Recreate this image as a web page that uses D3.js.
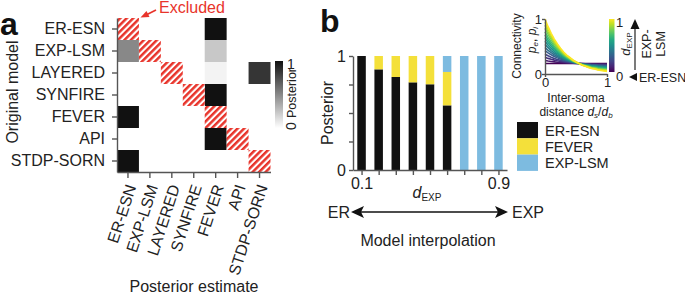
<!DOCTYPE html>
<html><head><meta charset="utf-8">
<script src="https://cdn.jsdelivr.net/npm/d3@7"></script>
<style>body{margin:0;background:#fff}svg{display:block;font-family:"Liberation Sans",Arial,sans-serif}</style>
</head><body><svg id="c" width="685" height="296"></svg>
<script>
// ---------- data ----------
const models = ["ER-ESN","EXP-LSM","LAYERED","SYNFIRE","FEVER","API","STDP-SORN"];
// rows: original model, columns: posterior estimate
const posteriorRows = [
  [0,    0, 0, 0, 1,    0, 0],
  [0.5,  0, 0, 0, 0.23, 0, 0],
  [0,    0, 0, 0, 0.05, 0, 0.85],
  [0,    0, 0, 0, 1,    0, 0],
  [1,    0, 0, 0, 0,    0, 0],
  [0,    0, 0, 0, 1,    0, 0],
  [1,    0, 0, 0, 0,    0, 0]
];
const excludedCells = [[0,0],[1,1],[2,2],[3,3],[4,4],[5,5],[6,6]];

const dExp = [0.1,0.2,0.3,0.4,0.5,0.6,0.7,0.8,0.9];
const postErEsn  = [1, 0.883, 0.816, 0.769, 0.752, 0.567, 0, 0, 0];
const postFever  = [0, 0.117, 0.184, 0.231, 0.248, 0.293, 0, 0, 0];
const postExpLsm = [0, 0, 0, 0, 0, 0.14, 1, 1, 1];
const barSeries = ["ER-ESN","FEVER","EXP-LSM"];
const barColors = ["#111111","#f4e03a","#7dbbe0"];
const dExpTickLabels = ["0.1","0.9"];

// inset: connectivity profiles
const distSamples = [0,0.05,0.1,0.15,0.2,0.25,0.3,0.35,0.4,0.45,0.5,0.55,0.6,0.65,0.7,0.75,0.8,0.85,0.9,0.95,1];
const expProfile  = [1,0.86,0.74,0.635,0.545,0.47,0.40,0.345,0.30,0.255,0.22,0.19,0.16,0.14,0.12,0.10,0.09,0.075,0.065,0.056,0.048];
const flatProfile = [0.19,0.19,0.19,0.19,0.19,0.19,0.19,0.19,0.19,0.19,0.19,0.19,0.19,0.19,0.19,0.19,0.19,0.19,0.19,0.19,0.19];
const insetLevels = [0,0.07,0.14,0.21,0.29,0.36,0.43,0.5,0.57,0.64,0.71,0.79,0.86,0.93,1];

// ---------- drawing ----------
const svg = d3.select("#c");
const txt = "#222", axc = "#555", red = "#e8342b";
const defs = svg.append("defs");
const pat = defs.append("pattern").attr("id","hatch").attr("patternUnits","userSpaceOnUse")
  .attr("width",4.6).attr("height",4.6).attr("patternTransform","rotate(45)");
pat.append("rect").attr("width",4.6).attr("height",4.6).attr("fill","#fff");
pat.append("rect").attr("width",2.5).attr("height",4.6).attr("fill",red);

// ===== Panel a =====
svg.append("text").attr("x",0).attr("y",35).attr("font-size",32).attr("font-weight","bold").attr("fill","#111").text("a");
const hx = d3.scaleBand().domain(models).range([117,270.5]);
const hy = d3.scaleBand().domain(models).range([18,172]);
const gray = d3.scaleLinear().domain([0,1]).range(["#ffffff","#111111"]).interpolate(d3.interpolateRgb);

const cells = [];
posteriorRows.forEach((row,i)=>row.forEach((v,j)=>{ if(v>0) cells.push({r:models[i],c:models[j],v}); }));
svg.append("g").selectAll("rect").data(cells).join("rect")
  .attr("x",d=>hx(d.c)).attr("y",d=>hy(d.r)).attr("width",hx.bandwidth()).attr("height",hy.bandwidth())
  .attr("fill",d=>gray(d.v));
svg.append("g").selectAll("rect").data(excludedCells).join("rect")
  .attr("x",d=>hx(models[d[1]])).attr("y",d=>hy(models[d[0]])).attr("width",hx.bandwidth()).attr("height",hy.bandwidth())
  .attr("fill","url(#hatch)");

const ayA = svg.append("g").attr("transform","translate(117,0)")
  .call(d3.axisLeft(hy).tickSize(5).tickSizeOuter(0).tickPadding(7));
ayA.select(".domain").attr("stroke",axc).attr("stroke-width",1.4);
ayA.selectAll(".tick line").attr("stroke",axc).attr("stroke-width",1.4);
ayA.selectAll(".tick text").attr("font-size",16).attr("fill",txt).attr("font-family","Liberation Sans, Arial, sans-serif");

const axA = svg.append("g").attr("transform","translate(0,172)")
  .call(d3.axisBottom(hx).tickSize(6).tickSizeOuter(0));
axA.select(".domain").attr("stroke",axc).attr("stroke-width",1.4);
axA.selectAll(".tick line").attr("stroke",axc).attr("stroke-width",1.4);
axA.selectAll(".tick text").attr("font-size",16).attr("fill",txt).attr("font-family","Liberation Sans, Arial, sans-serif")
  .attr("text-anchor","end").attr("y",0).attr("dy","0.35em")
  .attr("transform","translate(3,13) rotate(-72)");

svg.append("text").attr("transform","translate(18,92) rotate(-90)").attr("text-anchor","middle")
  .attr("font-size",16).attr("fill",txt).text("Original model");
svg.append("text").attr("x",194).attr("y",292).attr("text-anchor","middle")
  .attr("font-size",16).attr("fill",txt).text("Posterior estimate");

// Excluded annotation
svg.append("text").attr("x",159).attr("y",12.5).attr("font-size",16).attr("fill",red).text("Excluded");
svg.append("line").attr("x1",156).attr("y1",10).attr("x2",146).attr("y2",15).attr("stroke",red).attr("stroke-width",1.8);
svg.append("path").attr("d","M140.5,17.5 L146.5,11 L149.5,17 Z").attr("fill",red);

// colorbar a
const gA = defs.append("linearGradient").attr("id","gA").attr("x1",0).attr("y1",1).attr("x2",0).attr("y2",0);
gA.append("stop").attr("offset",0).attr("stop-color",gray(0));
gA.append("stop").attr("offset",1).attr("stop-color",gray(1));
const cbA = d3.scaleLinear().domain([0,1]).range([128,61]);
svg.append("rect").attr("x",275).attr("y",cbA(1)).attr("width",8).attr("height",cbA(0)-cbA(1)).attr("fill","url(#gA)");
svg.append("text").attr("x",287).attr("y",cbA(1)+8).attr("font-size",14).attr("fill",txt).text("1");
svg.append("text").attr("transform",`translate(296,${cbA(0)-2}) rotate(-90)`).attr("text-anchor","middle")
  .attr("font-size",14).attr("fill",txt).text("0");
svg.append("text").attr("transform","translate(296,93) rotate(-90)").attr("text-anchor","middle")
  .attr("font-size",12.5).attr("fill",txt).text("Posterior");

// ===== Panel b =====
svg.append("text").attr("x",320).attr("y",32).attr("font-size",32).attr("font-weight","bold").attr("fill","#111").text("b");
const bx = d3.scaleLinear().domain([0.05,0.95]).range([353,507]);
const by = d3.scaleLinear().domain([0,1]).range([170,56]);
const barTable = dExp.map((d,i)=>({d,"ER-ESN":postErEsn[i],"FEVER":postFever[i],"EXP-LSM":postExpLsm[i]}));
const stacked = d3.stack().keys(barSeries)(barTable);
const bw = 8.5;
svg.append("g").selectAll("g").data(stacked).join("g").attr("fill",(s,i)=>barColors[i])
  .selectAll("rect").data(s=>s).join("rect")
  .attr("x",d=>bx(d.data.d)-bw/2).attr("width",bw)
  .attr("y",d=>by(d[1])).attr("height",d=>by(d[0])-by(d[1]));

const ayB = svg.append("g").attr("transform","translate(353,0)")
  .call(d3.axisLeft(by).tickValues([0,0.25,0.5,0.75,1]).tickSize(4).tickSizeOuter(0)
    .tickFormat(v=>(v===0||v===1)?d3.format("d")(v):""));
ayB.select(".domain").attr("stroke",axc).attr("stroke-width",1.4);
ayB.selectAll(".tick line").attr("stroke",axc).attr("stroke-width",1.4);
ayB.selectAll(".tick text").attr("font-size",16).attr("fill",txt).attr("font-family","Liberation Sans, Arial, sans-serif").attr("x",-7);

const axB = svg.append("g").attr("transform","translate(0,170)")
  .call(d3.axisBottom(bx).tickValues(dExp).tickSize(5).tickSizeOuter(0)
    .tickFormat(v=>dExpTickLabels.includes(d3.format(".1f")(v))?d3.format(".1f")(v):""));
axB.select(".domain").attr("stroke",axc).attr("stroke-width",1.4);
axB.selectAll(".tick line").attr("stroke",axc).attr("stroke-width",1.4);
axB.selectAll(".tick text").attr("font-size",16).attr("fill",txt).attr("font-family","Liberation Sans, Arial, sans-serif").attr("y",8);

svg.append("text").attr("transform","translate(333,113) rotate(-90)").attr("text-anchor","middle")
  .attr("font-size",16).attr("fill",txt).text("Posterior");
const dl = svg.append("text").attr("x",427).attr("y",198).attr("text-anchor","middle").attr("fill",txt);
dl.append("tspan").attr("font-size",16).attr("font-style","italic").text("d");
dl.append("tspan").attr("font-size",10).attr("dy",3).text("EXP");

// double arrow
svg.append("line").attr("x1",360).attr("y1",212).attr("x2",499).attr("y2",212).attr("stroke","#111").attr("stroke-width",1.6);
svg.append("path").attr("d","M351,212 L364,206 L361,212 L364,218 Z").attr("fill","#111");
svg.append("path").attr("d","M508,212 L495,206 L498,212 L495,218 Z").attr("fill","#111");
svg.append("text").attr("x",350).attr("y",218).attr("text-anchor","end").attr("font-size",16).attr("fill",txt).text("ER");
svg.append("text").attr("x",512).attr("y",218).attr("font-size",16).attr("fill",txt).text("EXP");
svg.append("text").attr("x",428).attr("y",246).attr("text-anchor","middle").attr("font-size",16).attr("fill",txt).text("Model interpolation");

// legend
const lg = svg.append("g");
const lgH = 16.3;
barSeries.forEach((s,i)=>{
  lg.append("rect").attr("x",517).attr("y",122+i*lgH).attr("width",21).attr("height",lgH).attr("fill",barColors[i]);
  lg.append("text").attr("x",545).attr("y",135.5+i*lgH).attr("font-size",14.5).attr("fill",txt).text(s);
});

// ===== inset =====
const ix = d3.scaleLinear().domain([0,1]).range([545,607]);
const iy = d3.scaleLinear().domain([0,1]).range([74,19]);
const line = d3.line().x(d=>ix(d[0])).y(d=>iy(d[1]));
svg.append("g").selectAll("path").data(insetLevels).join("path")
  .attr("d",w=>line(distSamples.map((s,k)=>[s,(1-w)*flatProfile[k]+w*expProfile[k]])))
  .attr("fill","none").attr("stroke",w=>d3.interpolateViridis(w)).attr("stroke-width",1.6);

const ayI = svg.append("g").attr("transform","translate(545,0)")
  .call(d3.axisLeft(iy).tickValues([0,1]).tickSize(3).tickSizeOuter(0).tickFormat(d3.format("d")));
const axI = svg.append("g").attr("transform","translate(0,74)")
  .call(d3.axisBottom(ix).tickValues([0,1]).tickSize(3).tickSizeOuter(0).tickFormat(d3.format("d")));
[ayI,axI].forEach(g=>{
  g.select(".domain").attr("stroke",axc).attr("stroke-width",1.4);
  g.selectAll(".tick line").attr("stroke",axc).attr("stroke-width",1.4);
  g.selectAll(".tick text").attr("font-size",13).attr("fill",txt).attr("font-family","Liberation Sans, Arial, sans-serif");
});
ayI.selectAll(".tick text").attr("x",-3);
axI.selectAll(".tick text").attr("y",4);

svg.append("text").attr("transform","translate(521,46) rotate(-90)").attr("text-anchor","middle")
  .attr("font-size",12).attr("fill",txt).text("Connectivity");
const pl = svg.append("text").attr("transform","translate(536,40) rotate(-90)").attr("text-anchor","middle")
  .attr("font-size",12).attr("fill",txt).attr("font-style","italic");
pl.append("tspan").text("p");
pl.append("tspan").attr("font-size",8).attr("dy",2).text("e");
pl.append("tspan").attr("dy",-2).attr("font-style","normal").text(", ");
pl.append("tspan").text("p");
pl.append("tspan").attr("font-size",8).attr("dy",2).text("i");

svg.append("text").attr("x",576).attr("y",102).attr("text-anchor","middle").attr("font-size",12).attr("fill",txt).text("Inter-soma");
const dd = svg.append("text").attr("x",576).attr("y",116).attr("text-anchor","middle").attr("font-size",12).attr("fill",txt);
dd.append("tspan").text("distance ");
dd.append("tspan").attr("font-style","italic").text("d");
dd.append("tspan").attr("font-size",8).attr("dy",2).attr("font-style","italic").text("s");
dd.append("tspan").attr("dy",-2).text("/");
dd.append("tspan").attr("font-style","italic").text("d");
dd.append("tspan").attr("font-size",8).attr("dy",2).attr("font-style","italic").text("b");

// viridis colorbar
const gV = defs.append("linearGradient").attr("id","gV").attr("x1",0).attr("y1",1).attr("x2",0).attr("y2",0);
d3.range(0,1.0001,0.1).forEach(t=>gV.append("stop").attr("offset",t).attr("stop-color",d3.interpolateViridis(t)));
const cbV = d3.scaleLinear().domain([0,1]).range([72,19]);
svg.append("rect").attr("x",609).attr("y",cbV(1)).attr("width",5.5).attr("height",cbV(0)-cbV(1)).attr("fill","url(#gV)");
svg.append("text").attr("x",616).attr("y",cbV(1)+8).attr("font-size",13).attr("fill",txt).text("1");
svg.append("text").attr("x",616).attr("y",cbV(0)+9).attr("font-size",13).attr("fill",txt).text("0");
const dv = svg.append("text").attr("transform","translate(630,44) rotate(-90)").attr("text-anchor","middle").attr("fill",txt);
dv.append("tspan").attr("font-size",13).attr("font-style","italic").text("d");
dv.append("tspan").attr("font-size",8).attr("dy",2).text("EXP");

// vertical arrow
svg.append("line").attr("x1",635).attr("y1",70).attr("x2",635).attr("y2",27).attr("stroke","#333").attr("stroke-width",1.3);
svg.append("path").attr("d","M635,19 L630.5,29 L639.5,29 Z").attr("fill","#111");
svg.append("text").attr("transform","translate(651,44) rotate(-90)").attr("text-anchor","middle").attr("font-size",12.5).attr("fill",txt).text("EXP-");
svg.append("text").attr("transform","translate(665,44) rotate(-90)").attr("text-anchor","middle").attr("font-size",12.5).attr("fill",txt).text("LSM");
svg.append("path").attr("d","M629,77 L637,73 L637,81 Z").attr("fill","#111");
svg.append("text").attr("x",639).attr("y",81.5).attr("font-size",12.5).attr("fill",txt).text("ER-ESN");
</script></body></html>
